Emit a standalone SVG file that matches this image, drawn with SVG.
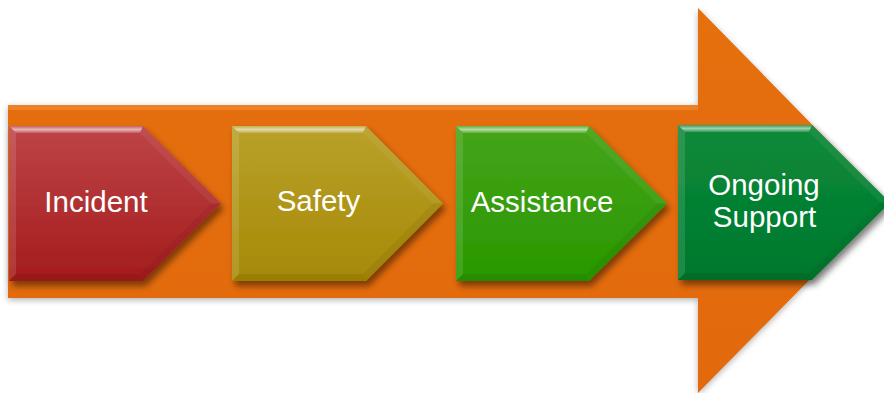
<svg xmlns="http://www.w3.org/2000/svg" width="884" height="393" viewBox="0 0 884 393">
  <style>
    .lbl { font-family: "Liberation Sans", Arial, sans-serif; font-size: 29.5px; fill: #ffffff; text-anchor: middle; }
    .hi { fill: #ffffff; }
    .sh { fill: #000000; }
  </style>
  <defs>
    <filter id="shadow" x="-10%" y="-10%" width="130%" height="140%">
      <feDropShadow dx="3" dy="5" stdDeviation="3" flood-color="#000000" flood-opacity="0.45"/>
    </filter>
    <filter id="bigShadow" x="-5%" y="-5%" width="110%" height="115%">
      <feDropShadow dx="0" dy="2" stdDeviation="3" flood-color="#000000" flood-opacity="0.3"/>
    </filter>
    <linearGradient id="gOrange" x1="0" y1="0" x2="0" y2="1">
      <stop offset="0" stop-color="#E56F10"/>
      <stop offset="1" stop-color="#E26A0A"/>
    </linearGradient>
    <linearGradient id="gRed" x1="0" y1="0" x2="0" y2="1">
      <stop offset="0" stop-color="#BE4447"/>
      <stop offset="1" stop-color="#A41C1C"/>
    </linearGradient>
    <linearGradient id="gYellow" x1="0" y1="0" x2="0" y2="1">
      <stop offset="0" stop-color="#B9A12B"/>
      <stop offset="1" stop-color="#A68905"/>
    </linearGradient>
    <linearGradient id="gLime" x1="0" y1="0" x2="0" y2="1">
      <stop offset="0" stop-color="#46A41A"/>
      <stop offset="1" stop-color="#289800"/>
    </linearGradient>
    <linearGradient id="gGreen" x1="0" y1="0" x2="0" y2="1">
      <stop offset="0" stop-color="#0B8A3A"/>
      <stop offset="1" stop-color="#00782C"/>
    </linearGradient>
    <linearGradient id="gTop" x1="0" y1="0" x2="0" y2="1">
      <stop offset="0" stop-color="#ffffff" stop-opacity="0.15"/>
      <stop offset="0.5" stop-color="#ffffff" stop-opacity="0.6"/>
      <stop offset="1" stop-color="#ffffff" stop-opacity="0.15"/>
    </linearGradient>
  </defs>

  <g id="bigArrow" filter="url(#bigShadow)">
    <polygon points="8,105 698,105 698,8 887,201 698,393 698,298 8,298" fill="url(#gOrange)"/>
    <polygon points="8,105 698,105 698,110 8,110" fill="#F5923A" opacity="0.55"/>
  </g>

  <g id="incident">
    <polygon points="9,126 143,126 221,203.5 143,281 9,281" fill="url(#gRed)" filter="url(#shadow)"/>
    <polygon points="9,126 143,126 140,133 16,133" fill="url(#gTop)"/>
    <polygon points="9,126 16,133 16,274 9,281" class="hi" opacity="0.12"/>
    <polygon points="143,126 221,203.5 211,203.5 140,133" class="hi" opacity="0.06"/>
    <polygon points="9,281 16,274 140,274 143,281" class="sh" opacity="0.08"/>
    <polygon points="143,281 221,203.5 211,203.5 140,274" class="sh" opacity="0.05"/>
    <text class="lbl" x="96" y="212">Incident</text>
  </g>

  <g id="safety">
    <polygon points="232,126 366,126 443,203.5 366,281 232,281" fill="url(#gYellow)" filter="url(#shadow)"/>
    <polygon points="232,126 366,126 363,133 239,133" fill="url(#gTop)"/>
    <polygon points="232,126 239,133 239,274 232,281" class="hi" opacity="0.12"/>
    <polygon points="366,126 443,203.5 433,203.5 363,133" class="hi" opacity="0.06"/>
    <polygon points="232,281 239,274 363,274 366,281" class="sh" opacity="0.08"/>
    <polygon points="366,281 443,203.5 433,203.5 363,274" class="sh" opacity="0.05"/>
    <text class="lbl" x="318.5" y="211">Safety</text>
  </g>

  <g id="assistance">
    <polygon points="456,126 589,126 667,203.5 589,281 456,281" fill="url(#gLime)" filter="url(#shadow)"/>
    <polygon points="456,126 589,126 586,133 463,133" fill="url(#gTop)"/>
    <polygon points="456,126 463,133 463,274 456,281" class="hi" opacity="0.12"/>
    <polygon points="589,126 667,203.5 657,203.5 586,133" class="hi" opacity="0.06"/>
    <polygon points="456,281 463,274 586,274 589,281" class="sh" opacity="0.08"/>
    <polygon points="589,281 667,203.5 657,203.5 586,274" class="sh" opacity="0.05"/>
    <text class="lbl" x="542" y="212">Assistance</text>
  </g>

  <g id="ongoingSupport">
    <polygon points="678,125 812,125 890,202.5 812,280 678,280" fill="url(#gGreen)" filter="url(#shadow)"/>
    <polygon points="678,125 812,125 809,132 685,132" fill="url(#gTop)"/>
    <polygon points="678,125 685,132 685,273 678,280" class="hi" opacity="0.12"/>
    <polygon points="812,125 890,202.5 880,202.5 809,132" class="hi" opacity="0.06"/>
    <polygon points="678,280 685,273 809,273 812,280" class="sh" opacity="0.08"/>
    <polygon points="812,280 890,202.5 880,202.5 809,273" class="sh" opacity="0.05"/>
    <text class="lbl" x="764" y="195">Ongoing</text>
    <text class="lbl" x="764.5" y="227">Support</text>
  </g>

  <g id="connectors"></g>
</svg>
